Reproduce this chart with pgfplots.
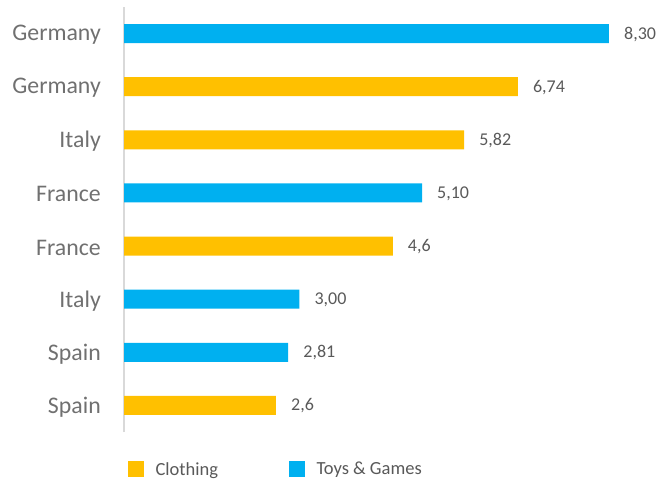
\documentclass[border=0pt]{standalone}
\usepackage{pgfplots}
\pgfplotsset{compat=1.18}
\usepackage{fontspec}
\setmainfont{Carlito}
\definecolor{cblue}{HTML}{00B0F0}
\definecolor{cyellow}{HTML}{FFC000}
\definecolor{lbl}{HTML}{595959}
\definecolor{tlbl}{HTML}{707070}
\definecolor{axl}{HTML}{D9D9D9}
\begin{document}
\begin{tikzpicture}
\useasboundingbox (0,0) rectangle (661bp,480bp);
\begin{axis}[
  at={(124bp,48bp)}, anchor=south west,
  scale only axis, width=525.9bp, height=425bp,
  xmin=0, xmax=9, ymin=-0.5, ymax=7.5,
  xbar, bar width=19bp, bar shift=0pt,
  axis x line=none, axis y line*=left,
  axis line style={-, draw=axl, line width=1.3bp},
  ytick={0,...,7},
  yticklabels={Spain,Spain,Italy,France,France,Italy,Germany,Germany},
  major tick length=0pt,
  y tick label style={font=\fontsize{23.8bp}{26bp}\selectfont, text=tlbl, inner sep=0pt, anchor=east, xshift=-23bp, yshift=-1.5bp},
  point meta=explicit symbolic,
  nodes near coords,
  nodes near coords style={font=\fontsize{18bp}{20bp}\selectfont, text=lbl, anchor=west, inner sep=0pt, xshift=15bp, yshift=-0.5bp},
  legend columns=2,
  legend style={draw=none, at={(0.0064,-0.088)}, anchor=west, inner sep=0pt, column sep=0pt,
    font=\fontsize{18.5bp}{20bp}\selectfont, text=lbl, nodes={inner sep=0pt, anchor=west}},
  legend image code/.code={\fill[#1] (3bp,-8bp) rectangle (19bp,8bp);},
  clip=false,
]
\addplot[fill=cyellow, draw=none] table[x=x, y=y, meta=l] {
x y l
6.74 6 6,74
5.82 5 5,82
4.6 3 4,6
2.6 0 2,6
};
\addlegendentry{\hspace{12bp}\makebox[133bp][l]{Clothing}}
\addplot[fill=cblue, draw=none] table[x=x, y=y, meta=l] {
x y l
8.30 7 8,30
5.10 4 5,10
3.00 2 3,00
2.81 1 2,81
};
\addlegendentry{\hspace{12bp}Toys \& Games}
\end{axis}
\end{tikzpicture}
\end{document}
